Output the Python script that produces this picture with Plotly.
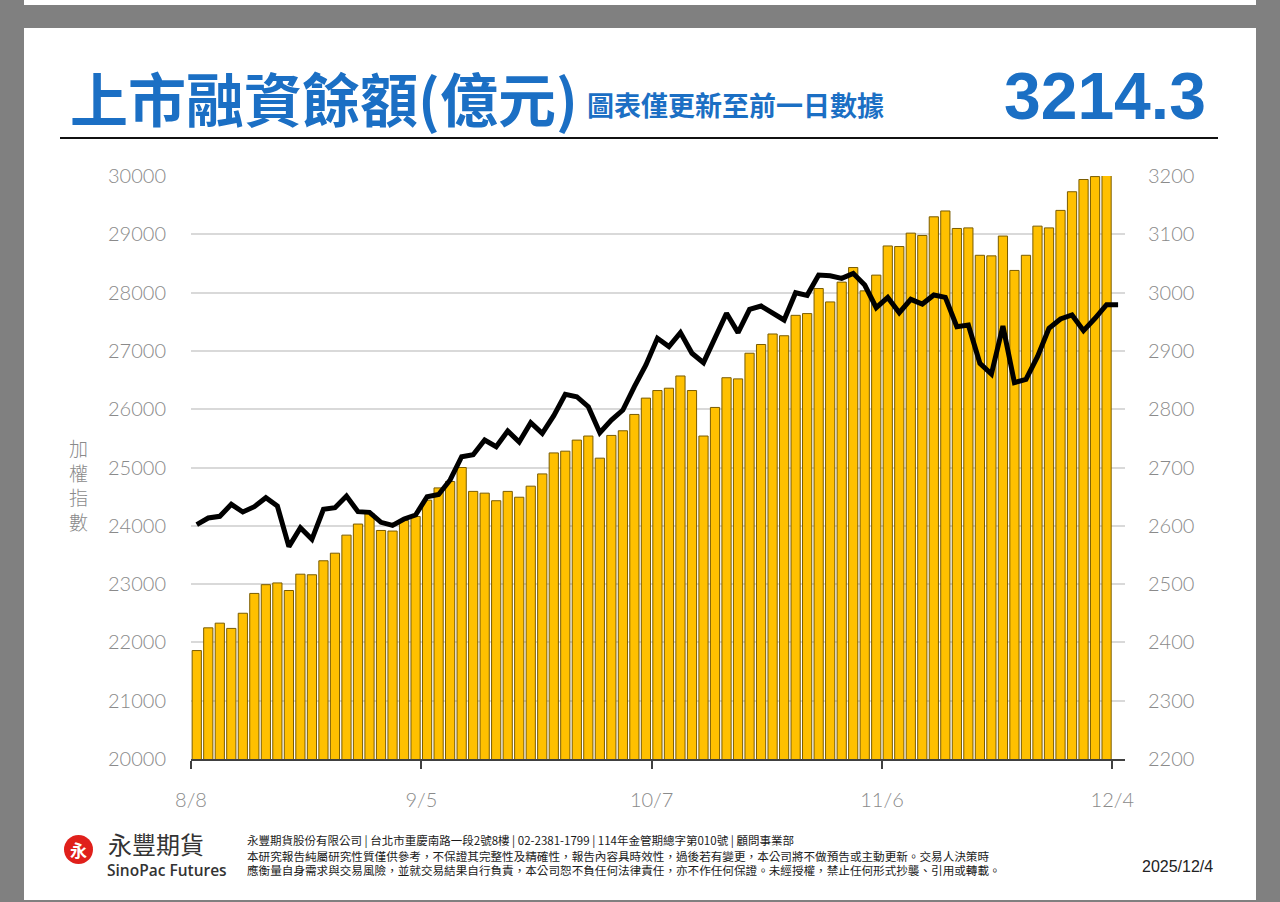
import plotly.graph_objects as go

# 融資餘額 (億元), one bar per trading day, 8/8 -> 12/4
margin_balance = [2386, 2425, 2433, 2424, 2450, 2484, 2499, 2502, 2489, 2517,
                  2516, 2540, 2553, 2584, 2603, 2621, 2592, 2591, 2609, 2616,
                  2644, 2665, 2676, 2700, 2659, 2656, 2643, 2659, 2649, 2668,
                  2689, 2725, 2728, 2747, 2754, 2716, 2755, 2763, 2791, 2819,
                  2832, 2836, 2857, 2832, 2754, 2803, 2854, 2852, 2896, 2911,
                  2929, 2926, 2961, 2964, 3007, 2984, 3018, 3043, 3003, 3030,
                  3080, 3079, 3102, 3098, 3130, 3140, 3110, 3111, 3064, 3063,
                  3097, 3038, 3064, 3114, 3111, 3141, 3173, 3194, 3199, 3214.3]

# 加權指數
taiex = [24020, 24134, 24163, 24368, 24237, 24328, 24482, 24340, 23642, 23968,
         23768, 24282, 24311, 24511, 24242, 24231, 24060, 24008, 24117, 24185,
         24498, 24537, 24786, 25185, 25220, 25472, 25357, 25626, 25437, 25768,
         25585, 25889, 26255, 26214, 26043, 25597, 25815, 25986, 26386, 26758,
         27216, 27073, 27313, 26959, 26798, 27244, 27645, 27313, 27713, 27770,
         27656, 27530, 27998, 27953, 28302, 28290, 28245, 28330, 28130, 27741,
         27917, 27656, 27884, 27804, 27959, 27918, 27415, 27444, 26787, 26604,
         27427, 26455, 26512, 26901, 27387, 27547, 27616, 27347, 27559, 27793, 27793]

tick_pos = [0, 20, 40, 60, 80]
tick_labels = ["8/8", "9/5", "10/7", "11/6", "12/4"]

latest = "3214.3"
report_date = "2025/12/4"

W, H = 1280, 902
L, R, T, B = 191, 1125, 176, 759


def px(x):
    return (x - L) / (R - L)


def py(y):
    return (B - y) / (B - T)


CJK = "Noto Sans CJK TC"
BLUE = "#1b6fc4"
GREY = "#8a8a8a"

fig = go.Figure()

fig.add_trace(go.Bar(
    x=[i + 0.5 for i in range(len(margin_balance))],
    y=margin_balance,
    marker=dict(color="#FFC000", line=dict(color="#7a5c00", width=1)),
    yaxis="y",
    hoverinfo="y",
))

fig.add_trace(go.Scatter(
    x=[i + 0.5 for i in range(len(taiex))],
    y=taiex,
    mode="lines",
    line=dict(color="black", width=5),
    yaxis="y2",
))

fig.update_layout(
    width=W, height=H,
    margin=dict(l=L, r=W - R, t=T, b=H - B, pad=0),
    paper_bgcolor="#808080",
    plot_bgcolor="white",
    showlegend=False,
    bargap=0.2,
    xaxis=dict(
        range=[0, 81.1], tickvals=tick_pos, ticktext=tick_labels,
        showgrid=False, zeroline=False,
        showline=True, linecolor="#404040", linewidth=2,
        ticks="outside", ticklen=8, tickwidth=2, tickcolor="#404040",
        ticklabelstandoff=14,
        tickfont=dict(family="Lato", size=20, color=GREY, weight=300),
    ),
    yaxis=dict(
        side="right", range=[2200, 3200], dtick=100, tickformat="d",
        showgrid=True, gridcolor="#d9d9d9", gridwidth=1.5, zeroline=False,
        ticks="", ticklabelstandoff=22,
        tickfont=dict(family="Lato", size=20, color=GREY, weight=300),
    ),
    yaxis2=dict(
        side="left", overlaying="y", range=[20000, 30000], dtick=1000, tickformat="d",
        showgrid=False, zeroline=False,
        ticks="", ticklabelstandoff=24,
        tickfont=dict(family="Lato", size=20, color=GREY, weight=300),
    ),
)

shapes = [
    # white page panel on the grey frame
    dict(type="rect", xref="paper", yref="paper", layer="below",
         x0=px(24), x1=px(1256), y0=py(900), y1=py(28),
         fillcolor="white", line=dict(width=0)),
    dict(type="rect", xref="paper", yref="paper", layer="below",
         x0=px(24), x1=px(1256), y0=py(5), y1=py(0),
         fillcolor="white", line=dict(width=0)),
    # rule under the title
    dict(type="line", xref="paper", yref="paper",
         x0=px(60), x1=px(1218), y0=py(138), y1=py(138),
         line=dict(color="#111111", width=2)),
    # logo circle
    dict(type="circle", xref="paper", yref="paper",
         x0=px(64), x1=px(93), y0=py(864), y1=py(835),
         fillcolor="#e0201b", line=dict(width=0)),
]
fig.update_layout(shapes=shapes)

notes = [
    dict(text="<b>上市融資餘額(億元)</b>", x=px(68), y=py(97), xanchor="left", yanchor="middle",
         font=dict(family=CJK, size=58, color=BLUE)),
    dict(text="<b>圖表僅更新至前一日數據</b>", x=px(585), y=py(104), xanchor="left", yanchor="middle",
         font=dict(family=CJK, size=27, color=BLUE)),
    dict(text="<b>" + latest + "</b>", x=px(1208), y=py(96), xanchor="right", yanchor="middle",
         font=dict(family="Liberation Sans", size=66, color=BLUE)),
    dict(text="加<br>權<br>指<br>數", x=px(78), y=py(484), xanchor="center", yanchor="middle",
         font=dict(family=CJK, size=19, color=GREY, weight=300)),
    dict(text="<b>永</b>", x=px(78.5), y=py(849.5), xanchor="center", yanchor="middle",
         font=dict(family=CJK, size=17, color="white")),
    dict(text="永豐期貨", x=px(106), y=py(843), xanchor="left", yanchor="middle",
         font=dict(family=CJK, size=24, color="#333333")),
    dict(text="SinoPac Futures", x=px(105), y=py(869.5), xanchor="left", yanchor="middle",
         font=dict(family="Open Sans", size=15.5, color="#333333", weight=600)),
    dict(text="永豐期貨股份有限公司 | 台北市重慶南路一段2號8樓 | 02-2381-1799 | 114年金管期總字第010號 | 顧問事業部",
         x=px(245), y=py(840), xanchor="left", yanchor="middle",
         font=dict(family=CJK, size=11.5, color="#1a1a1a")),
    dict(text="本研究報告純屬研究性質僅供參考，不保證其完整性及精確性，報告內容具時效性，過後若有變更，本公司將不做預告或主動更新。交易人決策時",
         x=px(245), y=py(856), xanchor="left", yanchor="middle",
         font=dict(family=CJK, size=11.6, color="#1a1a1a")),
    dict(text="應衡量自身需求與交易風險，並就交易結果自行負責，本公司恕不負任何法律責任，亦不作任何保證。未經授權，禁止任何形式抄襲、引用或轉載。",
         x=px(245), y=py(870), xanchor="left", yanchor="middle",
         font=dict(family=CJK, size=11.6, color="#1a1a1a")),
    dict(text=report_date, x=px(1215), y=py(866), xanchor="right", yanchor="middle",
         font=dict(family="Liberation Sans", size=16, color="#222222")),
]
for n in notes:
    n.update(xref="paper", yref="paper", showarrow=False)
fig.update_layout(annotations=notes)

fig.write_html("out.html", config={"displayModeBar": False},
               post_script="document.body.style.margin='0';document.body.style.overflow='hidden';")
